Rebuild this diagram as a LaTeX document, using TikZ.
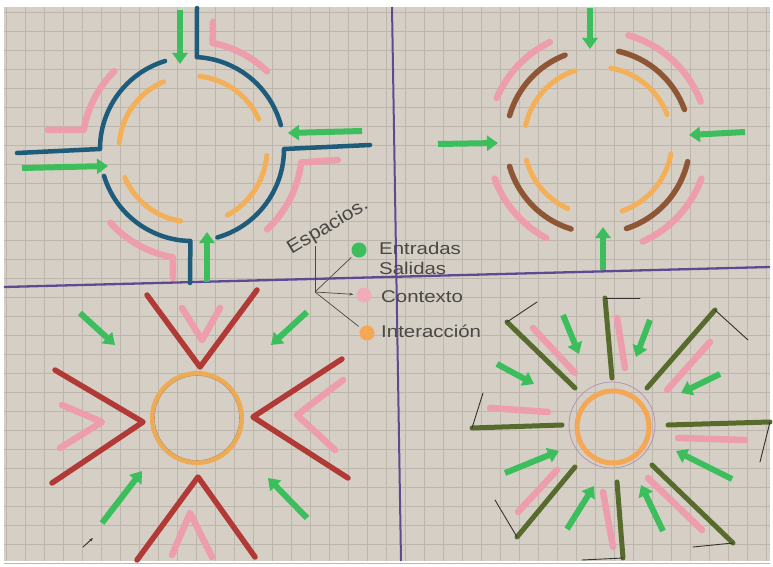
\documentclass[tikz,border=0pt]{standalone}
\usepackage{fontspec}
\setmainfont{Liberation Sans}
\usetikzlibrary{arrows.meta,calc}
\definecolor{paper}{HTML}{D5CFC6}
\definecolor{gridc}{HTML}{BDB6AD}
\definecolor{purp}{HTML}{5E4A92}
\definecolor{roadc}{HTML}{1D5C7A}
\definecolor{pinkc}{HTML}{EE9DAD}
\definecolor{orc}{HTML}{F3B059}
\definecolor{grc}{HTML}{3DBE5D}
\definecolor{brc}{HTML}{8E5634}
\definecolor{redc}{HTML}{B23A36}
\definecolor{olc}{HTML}{566B2C}
\definecolor{inkc}{HTML}{4A4844}
\begin{document}
\begin{tikzpicture}[x=1pt,y=-1pt,
  road/.style={draw=roadc,line width=4.5pt,line cap=round,line join=round},
  pinkm/.style={draw=pinkc,line width=6.5pt,line cap=round,line join=round},
  orm/.style={draw=orc,line width=5pt,line cap=round},
  brm/.style={draw=brc,line width=5.5pt,line cap=round},
  redm/.style={draw=redc,line width=5.5pt,line cap=round,line join=round},
  olm/.style={draw=olc,line width=5pt,line cap=round},
  thinl/.style={draw=black!80,line width=0.9pt,line cap=round},
  garrow/.style={draw=grc,line width=6pt,-{Triangle[length=11pt,width=15pt]}},
  lab/.style={text=inkc,font=\fontsize{17}{17}\selectfont,inner sep=0pt,xscale=1.2},
  dot/.style={circle,minimum size=15pt,inner sep=0pt,draw=none},
  gridl/.style={draw=gridc,line width=0.4pt}]
\useasboundingbox (0,0) rectangle (773,567);
\fill[white] (0,0) rectangle (773,567);
\fill[paper] (4,7) rectangle (770,561);
% grid
\foreach \i in {0,...,40} {\draw[gridl] (\i*19+6,7) -- (\i*19+6,561);}
\foreach \j in {0,...,29} {\draw[gridl] (4,\j*19+12) -- (770,\j*19+12);}
% dividing lines
\coordinate (hl) at (4,287); \coordinate (hr) at (770,267);
\coordinate (vt) at (392,7); \coordinate (vb) at (401,561);
\draw[draw=purp,line width=2.3pt] (hl) -- (hr);
\draw[draw=purp,line width=2pt] (vt) -- (vb);

% ===== Quadrant 1: roundabout =====
\coordinate (q1) at (192,149);
\draw[road] (197,8) -- ($(q1)+(-87:92)$) arc[start angle=-87,end angle=-15,radius=92];
\draw[road] (370,145) -- ($(q1)+(0:92)$) arc[start angle=0,end angle=74,radius=92];
\draw[road] (190,283) -- ($(q1)+(91:92)$) arc[start angle=91,end angle=163,radius=92];
\draw[road] (17,153) -- ($(q1)+(180:92)$) arc[start angle=180,end angle=253,radius=92];
\draw[orm] ($(q1)+(-175:73)$) arc[start angle=-175,end angle=-113,radius=73];
\draw[orm] ($(q1)+(-84:73)$) arc[start angle=-84,end angle=-24,radius=73];
\draw[orm] ($(q1)+(5:75)$) arc[start angle=5,end angle=62,radius=75];
\draw[orm] ($(q1)+(99:73)$) arc[start angle=99,end angle=157,radius=73];
\draw[pinkm] (213,22) -- ($(q1)+(-79:108)$) arc[start angle=-79,end angle=-46,radius=108];
\draw[pinkm] ($(q1)+(225:110)$) arc[start angle=225,end angle=190,radius=110] -- (48,130);
\draw[pinkm] (338,160) -- ($(q1)+(7:110)$) arc[start angle=7,end angle=47,radius=110];
\draw[pinkm] ($(q1)+(138:110)$) arc[start angle=138,end angle=100,radius=110] -- (173,278);
\coordinate (a1s) at (180,10); \coordinate (a1e) at (180,64);
\coordinate (a2s) at (362,131); \coordinate (a2e) at (288,133);
\coordinate (a3s) at (207,282); \coordinate (a3e) at (207,232);
\coordinate (a4s) at (22,168); \coordinate (a4e) at (108,166);
\draw[garrow] (a1s) -- (a1e);
\draw[garrow] (a2s) -- (a2e);
\draw[garrow] (a3s) -- (a3e);
\draw[garrow] (a4s) -- (a4e);

% ===== Quadrant 2 =====
\coordinate (q2) at (598,141);
\foreach \a/\b in {196/249,-77/-20,13/72,107/164}
  {\draw[brm] ($(q2)+(\a:92)$) arc[start angle=\a,end angle=\b,radius=92];}
\foreach \a/\b in {192/252,-80/-21,10/71,114/165}
  {\draw[orm] ($(q2)+(\a:74)$) arc[start angle=\a,end angle=\b,radius=74];}
\foreach \a/\b in {203/244,-74/-21,20/66,118/160}
  {\draw[pinkm] ($(q2)+(\a:110)$) arc[start angle=\a,end angle=\b,radius=110];}
\coordinate (b1s) at (590,8); \coordinate (b1e) at (590,49);
\coordinate (b2s) at (745,132); \coordinate (b2e) at (689,135);
\coordinate (b3s) at (438,144); \coordinate (b3e) at (498,143);
\coordinate (b4s) at (603,270); \coordinate (b4e) at (603,227);
\draw[garrow] (b1s) -- (b1e);
\draw[garrow] (b2s) -- (b2e);
\draw[garrow] (b3s) -- (b3e);
\draw[garrow] (b4s) -- (b4e);

% ===== Quadrant 3 =====
\draw[draw=orc!90!brown,line width=4pt] (197,418) circle[radius=45];
\draw[draw=brown!70!orc,line width=0.6pt] (197,418) circle[radius=42.5];
\draw[redm] (147,295) -- (200,367) -- (257,290);
\draw[redm] (55,370) -- (143,422) -- (52,483);
\draw[redm] (342,359) -- (253,417) -- (348,478);
\draw[redm] (137,560) -- (198,477) -- (255,557);
\draw[pinkm] (182,308) -- (202,340) -- (220,308);
\draw[pinkm] (62,405) -- (102,422) -- (60,448);
\draw[pinkm] (343,380) -- (297,415) -- (335,450);
\draw[pinkm] (172,555) -- (190,513) -- (212,557);
\coordinate (c1s) at (80,313); \coordinate (c1e) at (115,345);
\coordinate (c2s) at (307,312); \coordinate (c2e) at (271,345);
\coordinate (c3s) at (102,523); \coordinate (c3e) at (142,471);
\coordinate (c4s) at (307,518); \coordinate (c4e) at (268,478);
\draw[garrow] (c1s) -- (c1e);
\draw[garrow] (c2s) -- (c2e);
\draw[garrow] (c3s) -- (c3e);
\draw[garrow] (c4s) -- (c4e);
\coordinate (t1s) at (83,547); \coordinate (t1e) at (93,538);
\draw[thinl,-{Stealth[length=4pt]}] (t1s) -- (t1e);

% ===== Quadrant 4 =====
\draw[draw=gray!55!violet!60!white,line width=0.7pt] (612,425) circle[radius=43];
\draw[draw=orc!95!red,line width=5pt] (613,427) circle[radius=36];
% olive bars with thin ends
\draw[olm] (575,388) -- (507,322); \draw[thinl] (507,322) -- (537,302);
\draw[olm] (612,378) -- (605,298); \draw[thinl] (605,298) -- (640,298);
\draw[olm] (647,388) -- (715,310); \draw[thinl] (715,310) -- (748,340);
\draw[olm] (668,425) -- (770,422); \draw[thinl] (770,422) -- (760,462);
\draw[olm] (652,465) -- (733,543); \draw[thinl] (733,543) -- (693,547);
\draw[olm] (617,482) -- (623,558); \draw[thinl] (623,558) -- (582,560);
\draw[olm] (575,467) -- (517,537); \draw[thinl] (517,537) -- (495,500);
\draw[olm] (562,425) -- (472,428); \draw[thinl] (472,428) -- (483,393);
% pink bars
\draw[pinkm] (533,328) -- (575,373);
\draw[pinkm] (617,318) -- (625,368);
\draw[pinkm] (710,342) -- (667,390);
\draw[pinkm] (678,438) -- (745,440);
\draw[pinkm] (648,478) -- (702,530);
\draw[pinkm] (603,492) -- (613,547);
\draw[pinkm] (557,470) -- (518,512);
\draw[pinkm] (490,408) -- (548,412);
% green arrows
\coordinate (d1s) at (563,315); \coordinate (d1e) at (579,354);
\coordinate (d2s) at (650,320); \coordinate (d2e) at (636,357);
\coordinate (d3s) at (720,374); \coordinate (d3e) at (681,393);
\coordinate (d4s) at (497,364); \coordinate (d4e) at (534,384);
\coordinate (d5s) at (505,473); \coordinate (d5e) at (559,451);
\coordinate (d6s) at (732,479); \coordinate (d6e) at (676,451);
\coordinate (d7s) at (567,529); \coordinate (d7e) at (594,486);
\coordinate (d8s) at (663,531); \coordinate (d8e) at (641,485);
\foreach \k in {1,...,8} {\draw[garrow] (d\k s) -- (d\k e);}

% ===== Legend =====
\node[rotate=31,text=inkc,font=\fontsize{19}{19}\selectfont,inner sep=0pt,xscale=1.1] (esp) at (328,227) {Espacios.};
\node[dot,fill=grc] (dg) at (359,250) {};
\node[dot,fill=pinkc!85!white] (dp) at (364,295) {};
\node[dot,fill=orc!95!red] (do) at (367,333) {};
\node[lab,anchor=west] (ent) at (379,248) {Entradas};
\node[lab,anchor=west] (sal) at (379,268) {Salidas};
\node[lab,anchor=west] (con) at (381,297) {Contexto};
\node[lab,anchor=west] (int) at (381,331) {Interacción};
\coordinate (etop) at (315,246);
\coordinate (br) at (315,292);
\draw[draw=inkc,line width=0.7pt] (etop) -- (br);
\draw[draw=inkc,line width=0.7pt,shorten >=3pt] (br) -- (dg);
\draw[draw=inkc,line width=0.7pt,shorten >=3pt,-{Stealth[length=4pt]}] (br) -- (dp);
\draw[draw=inkc,line width=0.7pt,shorten >=3pt] (br) -- (do);
\end{tikzpicture}
\end{document}
